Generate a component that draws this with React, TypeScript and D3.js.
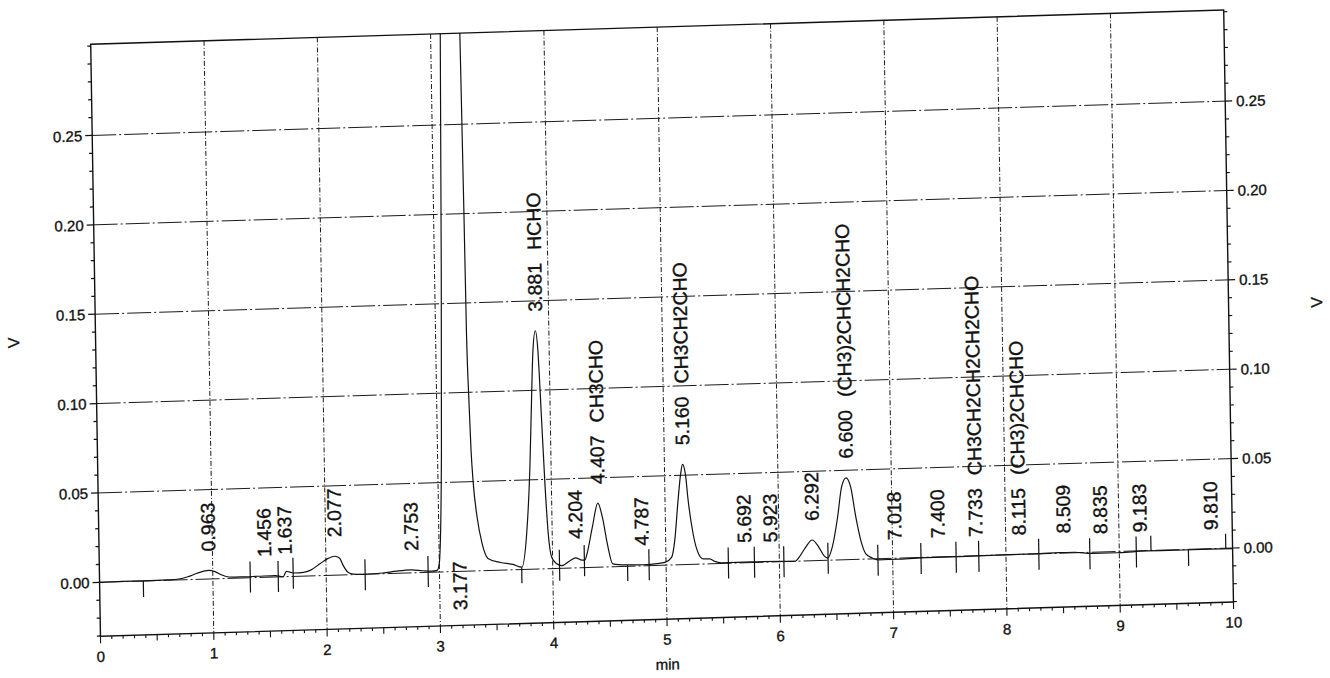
import React from 'react';
import * as d3 from 'd3';

// ---- data ----
const TIME_TICKS = [0, 1, 2, 3, 4, 5, 6, 7, 8, 9, 10];
const GRID_TIMES = [1, 2, 3, 4, 5, 6, 7, 8, 9];
const V_TICKS = [0, 0.05, 0.1, 0.15, 0.2, 0.25];

// detector signal (time in min, volts)
const trace: [number, number][] = [
  [0.0, 0.0], [0.2, 0.0001], [0.4, 0.0], [0.6, 0.0002], [0.7, 0.0005], [0.78, 0.0016],
  [0.86, 0.0034], [0.93, 0.0046], [0.963, 0.0048], [1.02, 0.004], [1.08, 0.002], [1.14, 0.0008],
  [1.25, 0.0006], [1.4, 0.0007], [1.55, 0.0008], [1.62, 0.0], [1.65, 0.003], [1.68, 0.0025],
  [1.72, 0.0019], [1.8, 0.0021], [1.86, 0.0031], [1.95, 0.0068], [2.02, 0.0095], [2.077, 0.0106],
  [2.12, 0.0095], [2.15, 0.0055], [2.19, 0.0016], [2.24, 0.0003], [2.35, 0.0], [2.5, 0.0004],
  [2.62, 0.0012], [2.75, 0.0017], [2.85, 0.001], [2.93, 0.0006], [2.98, 0.001], [3.0, 0.005],
  [3.01, 0.014], [3.035, 0.068], [3.06, 0.17], [3.085, 0.3], [3.177, 0.9], [3.258, 0.3],
  [3.268, 0.2], [3.273, 0.133], [3.284, 0.097], [3.296, 0.068], [3.31, 0.05], [3.34, 0.03],
  [3.38, 0.0153], [3.43, 0.0068], [3.54, 0.0043], [3.65, 0.003], [3.727, 0.0013], [3.775, 0.0201],
  [3.813, 0.0571], [3.837, 0.0945], [3.857, 0.1226], [3.881, 0.1333], [3.9, 0.1225], [3.922, 0.085],
  [3.943, 0.0478], [3.965, 0.0197], [3.992, 0.0064], [4.036, 0.0026], [4.08, 0.0015], [4.15, 0.004],
  [4.204, 0.0056], [4.26, 0.0042], [4.285, 0.0042], [4.305, 0.0079], [4.355, 0.0225], [4.407, 0.0358],
  [4.445, 0.0279], [4.485, 0.0129], [4.53, 0.0016], [4.65, 0.0008], [4.8, 0.0006], [4.92, 0.001],
  [4.99, 0.0016], [5.05, 0.0043], [5.08, 0.0136], [5.115, 0.036], [5.142, 0.0509], [5.16, 0.0561],
  [5.183, 0.0508], [5.204, 0.0359], [5.243, 0.0171], [5.288, 0.0058], [5.328, 0.0029], [5.386, 0.0028],
  [5.43, 0.0013], [5.49, 0.0004], [5.75, 0.0004], [6.03, 0.0002], [6.14, 0.0], [6.174, 0.0021],
  [6.233, 0.0076], [6.292, 0.0116], [6.351, 0.0074], [6.394, 0.0027], [6.429, 0.0013], [6.468, 0.0071],
  [6.52, 0.0239], [6.559, 0.0406], [6.6, 0.0458], [6.64, 0.0405], [6.681, 0.0236], [6.722, 0.0104],
  [6.764, 0.0029], [6.82, 0.0005], [6.87, -0.0006], [7.06, -0.0006], [7.3, -0.0002], [7.59, -0.0002],
  [7.97, 0.0], [8.3, 0.0001], [8.47, 0.0003], [8.6, 0.0003], [8.76, -0.0006], [9.0, -0.0007],
  [9.24, -0.0002], [9.5, -0.0003], [9.8, -0.0003], [10.0, -0.0003],
];

// peak retention times and names
const peakTimes = [0.963, 1.456, 1.637, 2.077, 2.753, 3.177, 3.881, 4.204, 4.407, 4.787, 5.16, 5.692,
  5.923, 6.292, 6.6, 7.018, 7.4, 7.733, 8.115, 8.509, 8.835, 9.183, 9.81];
const peakNames = ['', '', '', '', '', '', 'HCHO', '', 'CH3CHO', '', 'CH3CH2CHO', '', '', '',
  '(CH3)2CHCH2CHO', '', '', 'CH3CH2CH2CH2CHO', '(CH3)2CHCHO', '', '', '', ''];
const offScalePeaks = [3.177];

// integration marks: time, kind (c = crossing, d = below, u = above)
const markTimes = [0.386, 1.33, 1.577, 1.709, 2.344, 2.9, 3.726, 4.06, 4.28, 4.66, 4.85, 5.55, 5.78,
  6.04, 6.43, 6.87, 7.25, 7.56, 7.76, 8.29, 8.74, 9.15, 9.28, 9.61, 9.94];
const markKinds = ['d', 'c', 'c', 'c', 'c', 'c', 'd', 'c', 'c', 'd', 'c', 'c', 'c',
  'c', 'c', 'c', 'c', 'c', 'c', 'c', 'c', 'c', 'u', 'd', 'u'];

// ---- layout ----
const W = 1133;
const H = 592;
const FONT = 'Liberation Sans, Arial, Helvetica, sans-serif';

const x = d3.scaleLinear().domain([0, 10]).range([0, W]);
const y = d3.scaleLinear().domain([-0.0302, 0.301]).range([H, 0]);

const bis = d3.bisector((d: [number, number]) => d[0]).left;
function signalAt(t: number): number {
  const i = bis(trace, t);
  if (i <= 0) return trace[0][1];
  if (i >= trace.length) return trace[trace.length - 1][1];
  const a = trace[i - 1], b = trace[i];
  const f = (t - a[0]) / (b[0] - a[0]);
  return a[1] + f * (b[1] - a[1]);
}

export default function App() {
  const line = d3.line<[number, number]>()
    .x(d => x(d[0]))
    .y(d => y(d[1]))
    .curve(d3.curveMonotoneX);

  const minorV = d3.range(-3, 31).map(i => i / 100).filter(v => v >= -0.0301 && v <= 0.3005);
  const minorT = d3.range(0, 101).map(i => i / 10);

  const textStyle = { stroke: '#111', strokeWidth: 0.35 } as const;

  return (
    <svg width={1330} height={678} style={{ position: 'absolute', left: 0, top: 0, display: 'block', background: '#fff' }}>
      <defs>
        <clipPath id="plotclip">
          <rect x={0} y={0} width={W} height={H} />
        </clipPath>
      </defs>
      <g transform="matrix(1,-0.0303,0.0165,1,90.7,44.3)" fontFamily={FONT} fill="#111">
        {/* horizontal grid */}
        {V_TICKS.map(v => (
          <line key={'h' + v} x1={0} x2={W} y1={y(v)} y2={y(v)} stroke="#111" strokeWidth={0.95}
            strokeDasharray="24 3 2 3" />
        ))}
        {/* vertical grid */}
        {GRID_TIMES.map(t => (
          <line key={'v' + t} x1={x(t)} x2={x(t)} y1={0} y2={H} stroke="#111" strokeWidth={0.95}
            strokeDasharray="5 2 1 2" />
        ))}
        {/* frame */}
        <rect x={0} y={0} width={W} height={H} fill="none" stroke="#111" strokeWidth={1.4} />

        {/* left & right axis ticks */}
        {minorV.map(v => {
          const major = V_TICKS.some(m => Math.abs(m - v) < 1e-6);
          const len = major ? 7 : 3.5;
          return (
            <g key={'yt' + v}>
              <line x1={-len} x2={0} y1={y(v)} y2={y(v)} stroke="#111" strokeWidth={1.2} />
              <line x1={W} x2={W + len} y1={y(v)} y2={y(v)} stroke="#111" strokeWidth={1.2} />
            </g>
          );
        })}
        {/* bottom ticks */}
        {minorT.map((t, i) => {
          const len = i % 10 === 0 ? 7 : i % 5 === 0 ? 6 : 3;
          return <line key={'xt' + i} x1={x(t)} x2={x(t)} y1={H} y2={H + len} stroke="#111" strokeWidth={1.1} />;
        })}

        {/* tick labels */}
        {V_TICKS.map(v => (
          <text key={'yl' + v} x={-10} y={y(v)} textAnchor="end" dominantBaseline="central" fontSize={15} style={textStyle}>
            {d3.format('.2f')(v)}
          </text>
        ))}
        {V_TICKS.map(v => (
          <text key={'yr' + v} x={W + 11} y={y(v)} textAnchor="start" dominantBaseline="central" fontSize={15} style={textStyle}>
            {d3.format('.2f')(v)}
          </text>
        ))}
        {TIME_TICKS.map(t => (
          <text key={'xl' + t} x={x(t)} y={H + 20} textAnchor="middle" dominantBaseline="central" fontSize={15} style={textStyle}>
            {String(t)}
          </text>
        ))}
        <text x={x(5)} y={H + 45} textAnchor="middle" dominantBaseline="central" fontSize={15} style={textStyle}>min</text>
        <text transform={`translate(-82,296) rotate(-90)`} textAnchor="middle" dominantBaseline="central" fontSize={16} style={textStyle}>V</text>
        <text transform={`translate(${W + 88},295) rotate(-90)`} textAnchor="middle" dominantBaseline="central" fontSize={16} style={textStyle}>V</text>

        {/* trace */}
        <path d={line(trace) || ''} fill="none" stroke="#111" strokeWidth={1.2} clipPath="url(#plotclip)" />

        {/* integration marks */}
        {markTimes.map((t, i) => {
          const sy = y(signalAt(t));
          const k = markKinds[i];
          const y1 = k === 'd' ? sy : sy - 15;
          const y2 = k === 'u' ? sy : sy + 16;
          return <line key={'m' + i} x1={x(t)} x2={x(t)} y1={y1} y2={y2} stroke="#111" strokeWidth={1.2} />;
        })}

        {/* peak labels */}
        {peakTimes.map((rt, i) => {
          const px = x(rt);
          const label = rt.toFixed(3);
          if (offScalePeaks.includes(rt)) {
            return (
              <text key={'p' + i} transform={`translate(${px},${y(0) - 10}) rotate(-90)`} textAnchor="end"
                dominantBaseline="central" fontSize={19.5} style={textStyle}>{label}</text>
            );
          }
          const sy = y(signalAt(rt));
          return (
            <text key={'p' + i} transform={`translate(${px},${sy - 19}) rotate(-90)`} textAnchor="start"
              dominantBaseline="central" fontSize={19.5} style={textStyle}>
              {label}
              {peakNames[i] ? <tspan dx={13}>{peakNames[i]}</tspan> : null}
            </text>
          );
        })}
      </g>
    </svg>
  );
}
